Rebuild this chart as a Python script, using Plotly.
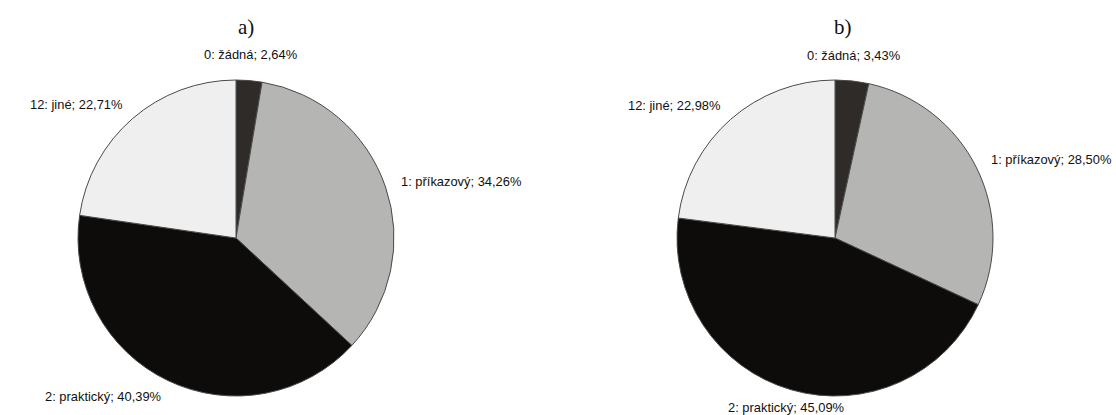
import math

import plotly.graph_objects as go

# data
labels = ["0: žádná", "1: příkazový", "2: praktický", "12: jiné"]
values_a = [2.64, 34.26, 40.39, 22.71]
values_b = [3.43, 28.50, 45.09, 22.98]
colors = ["#2e2b29", "#b5b5b3", "#0d0c0a", "#efefef"]

W, H = 1116, 415


def add_pie(fig, values, cx, cy, r, title, title_x):
    """
    One pie with outside labels placed around it
    """

    fig.add_trace(
        go.Pie(
            labels=labels,
            values=values,
            sort=False,
            direction="clockwise",
            rotation=0,
            textinfo="none",
            hoverinfo="label+percent",
            marker=dict(
                colors=colors,
                line=dict(color="#4a4a4a", width=1)
            ),
            domain=dict(
                x=[(cx - r) / W, (cx + r) / W],
                y=[(H - cy - r) / H, (H - cy + r) / H]
            ),
            showlegend=False
        )
    )

    # labels sit just outside the rim, anchored on the side facing the pie
    total = sum(values)
    start = 0
    for lab, v in zip(labels, values):
        mid = (start + v / 2) / total * 2 * math.pi
        start += v
        s, c = math.sin(mid), math.cos(mid)
        rr = r + 18
        x = cx + rr * s
        y = cy - rr * c

        if s > 0.3:
            xa = "left"
            x -= 4
        elif s < -0.3:
            xa = "right"
            x += 3
        else:
            xa = "center"

        if c > 0.8:
            y -= 8

        fig.add_annotation(
            x=x / W,
            y=1 - y / H,
            xref="paper",
            yref="paper",
            text=f"{lab}; {v:.2f}%".replace(".", ","),
            showarrow=False,
            xanchor=xa,
            yanchor="middle",
            font=dict(family="Liberation Sans, Arial", size=12.9, color="#111")
        )

    fig.add_annotation(
        x=title_x / W,
        y=1 - 27 / H,
        xref="paper",
        yref="paper",
        text=title,
        showarrow=False,
        xanchor="center",
        yanchor="middle",
        font=dict(family="Liberation Serif, DejaVu Serif", size=21, color="#111")
    )


fig = go.Figure()

add_pie(fig, values_a, 236, 238, 158, "a)", 246)
add_pie(fig, values_b, 835, 238, 158, "b)", 843)

fig.update_layout(
    width=W,
    height=H,
    margin=dict(l=0, r=0, t=0, b=0),
    paper_bgcolor="white",
    plot_bgcolor="white"
)

fig.write_html(
    "out.html",
    config={"displayModeBar": False},
    post_script="document.body.style.margin = '0';"
)
